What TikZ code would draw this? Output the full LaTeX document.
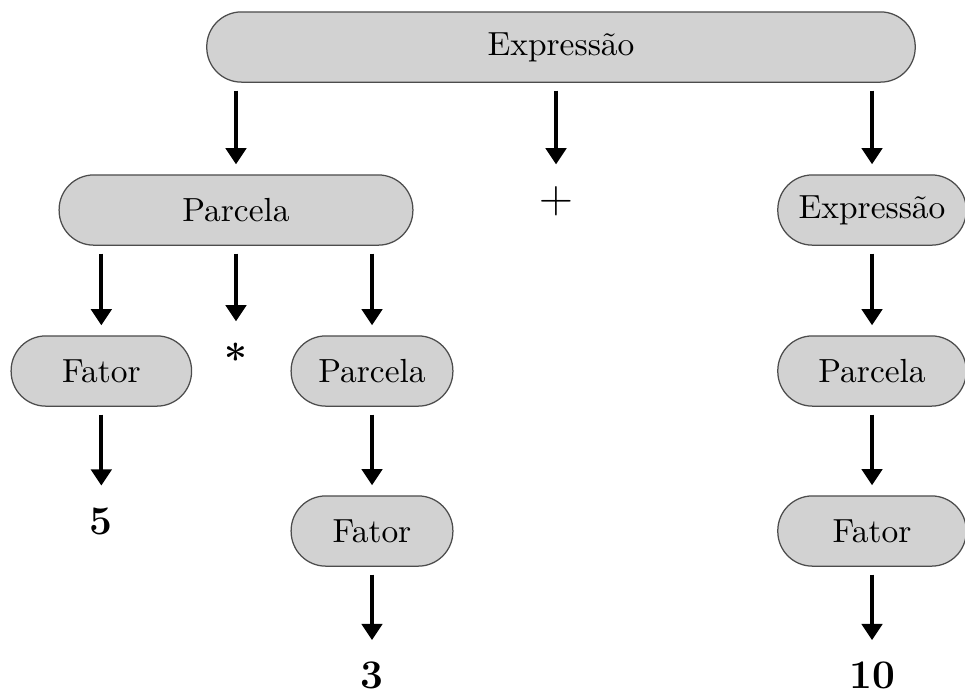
\documentclass[tikz,border=0pt]{standalone}
\usepackage{amsmath, amssymb}
\usepackage{tikz}
\usetikzlibrary{arrows.meta, positioning, calc}
\tikzset{
        block/.style={draw=black!70, fill=gray!35, rounded corners=0.39cm, minimum height=0.79cm, align=center, font=\fontsize{10.7}{13}\selectfont},
        leaf/.style={inner xsep=2pt, inner ysep=3.6pt, font=\fontsize{13}{15}\selectfont\bfseries},
        line/.style={-{Triangle[width=6.5pt, length=5.2pt]}, line width=1.25pt, shorten <=2.5pt, shorten >=3.2pt}
    }
\begin{document}
\begin{tikzpicture}
    % parse tree of 5 * 3 + 10
    \useasboundingbox (0,0) rectangle (10.856,-7.819);

    \node[block, minimum width=7.97cm] (expr) at (6.311, -0.529) {Expressão};

    % second level
    \node[block, minimum width=3.98cm] (parc) at (2.655, -2.363) {Parcela};
    \node[leaf, font=\fontsize{14.5}{16}\selectfont] (plus) at (6.255, -2.261) {$+$};
    \node[block, minimum width=2.12cm] (expr2) at (9.81, -2.363) {Expressão};

    % left subtree
    \node[block, minimum width=2.03cm] (fat1) at (1.14, -4.174) {Fator};
    \node[leaf] (ast) at (2.655, -4.033) {*};
    \node[block, minimum width=1.82cm] (parc2) at (4.185, -4.174) {Parcela};
    \node[leaf] (five) at (1.14, -5.861) {5};
    \node[block, minimum width=1.82cm] (fat2) at (4.185, -5.974) {Fator};
    \node[leaf] (three) at (4.185, -7.6) {3};

    % right subtree
    \node[block, minimum width=2.12cm] (parc3) at (9.81, -4.174) {Parcela};
    \node[block, minimum width=2.12cm] (fat3) at (9.81, -5.974) {Fator};
    \node[leaf] (ten) at (9.81, -7.6) {10};

    % connections
    \draw[line] (parc|- expr.south) -- (parc);
    \draw[line] (plus|- expr.south) -- (plus);
    \draw[line] (expr2|- expr.south) -- (expr2);

    \draw[line] (fat1|- parc.south) -- (fat1);
    \draw[line] (ast|- parc.south) -- (ast);
    \draw[line] (parc2|- parc.south) -- (parc2);
    \draw[line] (fat1) -- (five);
    \draw[line] (parc2) -- (fat2);
    \draw[line] (fat2) -- (three);

    \draw[line] (expr2) -- (parc3);
    \draw[line] (parc3) -- (fat3);
    \draw[line] (fat3) -- (ten);

\end{tikzpicture}
\end{document}
